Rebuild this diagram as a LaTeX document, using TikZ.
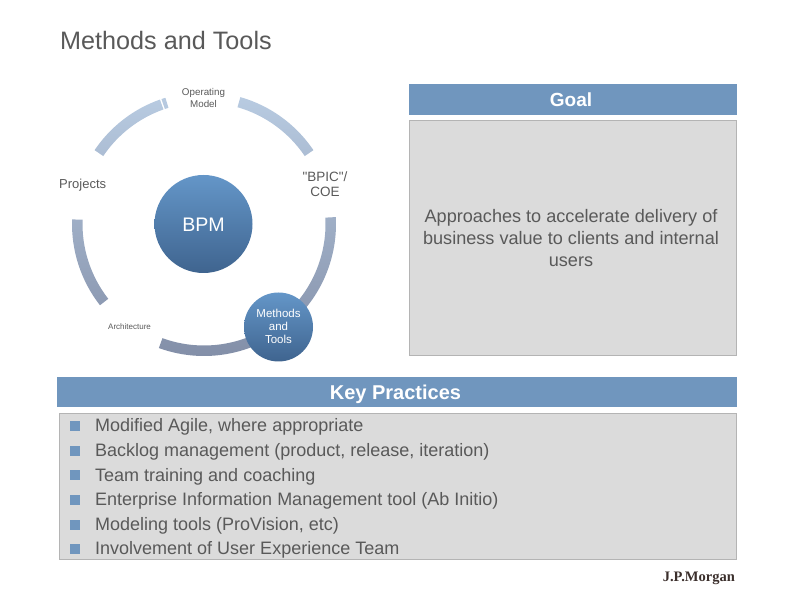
\documentclass[tikz,border=0pt]{standalone}
\usepackage{fontspec}
\setmainfont{Liberation Sans}
\newfontfamily\rawfont{Liberation Sans}
\newfontfamily\logofont{Liberation Serif}
\definecolor{hdr}{HTML}{7096BE}
\definecolor{panel}{HTML}{DBDBDB}
\definecolor{edge}{HTML}{B4B4B4}
\definecolor{ink}{HTML}{595959}
\definecolor{logoc}{HTML}{3B2F2C}
\definecolor{ringtop}{HTML}{B9CCE2}
\definecolor{ringbot}{HTML}{838FA8}
\definecolor{balltop}{HTML}{6496C8}
\definecolor{ballbot}{HTML}{3F648F}
\newcommand{\ringseg}[2]{([shift={(204,388)}]#1:132) arc[start angle=#1,end angle=#2,radius=132] -- ([shift={(204,388)}]#2:121.5) arc[start angle=#2,end angle=#1,radius=121.5] -- cycle}
\newcommand{\fs}[2]{\fontsize{#1}{#2}\selectfont}
\tikzset{
  header/.style={fill=hdr,draw=none},
  greybox/.style={fill=panel,draw=edge,line width=.7pt},
  hdrtext/.style={text=white,inner sep=0pt},
  ball/.style={circle,inner sep=0pt,top color=balltop,bottom color=ballbot,draw=none},
  ringlabel/.style={text=ink,align=center,inner sep=0pt},
  item/.style={anchor=base west,text=ink,font=\fs{18}{18},inner sep=0pt},
  bull/.style={fill=hdr,draw=none,minimum size=10pt,inner sep=0pt}
}
\begin{document}
\begin{tikzpicture}[x=1pt,y=1pt]
\useasboundingbox (0,0) rectangle (792,612);
\node[anchor=base west,text=ink,font=\fs{25.2}{25.2},inner sep=0pt] (title) at (60,562) {Methods and Tools};
% ring
\begin{scope}
\clip \ringseg{109.5}{146} \ringseg{107}{108.8} \ringseg{74}{34} \ringseg{3}{-110} \ringseg{178}{218};
\shade[top color=ringtop,bottom color=ringbot] (60,256) rectangle (345,520);
\end{scope}
\node[ball,minimum size=98pt] (bpm) at (203.5,388) {};
\node[text=white,font=\fs{19.6}{20},inner sep=0pt] (bpmt) at (203.5,387.5) {BPM};
\node[ball,minimum size=69pt] (mt) at (278.5,285) {};
\node[text=white,font=\fs{11.5}{13},align=center,inner sep=0pt] (mtt) at (278.5,285.5) {Methods\\and\\Tools};
\node[ringlabel,font=\fs{9.8}{11.5}] (op) at (203.5,514) {Operating\\Model};
\node[ringlabel,font=\fs{13}{13},anchor=base west] (proj) at (59,423.5) {Projects};
\node[ringlabel,font=\fs{13.5}{15.5}] (coe) at (325,428) {{\rawfont"}BPIC{\rawfont"}/\\COE};
\node[ringlabel,font=\fs{8}{8},anchor=base west] (arch) at (108,282) {Architecture};
% goal
\node[header,minimum width=328pt,minimum height=31pt,inner sep=0pt] (goalh) at (573,512.5) {};
\node[hdrtext,font=\fs{19}{19}\bfseries] (goalt) at (571,512.5) {Goal};
\node[greybox,minimum width=327.5pt,minimum height=235pt,inner sep=0pt] (goalb) at (573,374.5) {};
\node[text=ink,font=\fs{18.1}{21.7},align=center,inner sep=0pt] (goalx) at (571,374) {Approaches to accelerate delivery of\\business value to clients and internal\\users};
% practices
\node[header,minimum width=680pt,minimum height=30pt,inner sep=0pt] (kph) at (397,220) {};
\node[hdrtext,font=\fs{20}{20}\bfseries] (kpt) at (395.5,218) {Key Practices};
\node[greybox,minimum width=677pt,minimum height=146pt,inner sep=0pt] (kpb) at (397.5,126) {};
\node[bull] (b1) at (75,186) {};
\node[bull] (b2) at (75,161) {};
\node[bull] (b3) at (75,137) {};
\node[bull] (b4) at (75,112) {};
\node[bull] (b5) at (75,87) {};
\node[bull] (b6) at (75,63) {};
\node[item] (i1) at (95,180) {Modified Agile, where appropriate};
\node[item] (i2) at (95,155) {Backlog management (product, release, iteration)};
\node[item] (i3) at (95,130.5) {Team training and coaching};
\node[item] (i4) at (95,106) {Enterprise Information Management tool (Ab Initio)};
\node[item] (i5) at (95,81.5) {Modeling tools (ProVision, etc)};
\node[item] (i6) at (95,57) {Involvement of User Experience Team};
\node[anchor=base east,text=logoc,font=\logofont\fs{14.5}{14.5}\bfseries,inner sep=0pt] (logo) at (735,30) {J.P.Morgan};
\end{tikzpicture}
\end{document}
